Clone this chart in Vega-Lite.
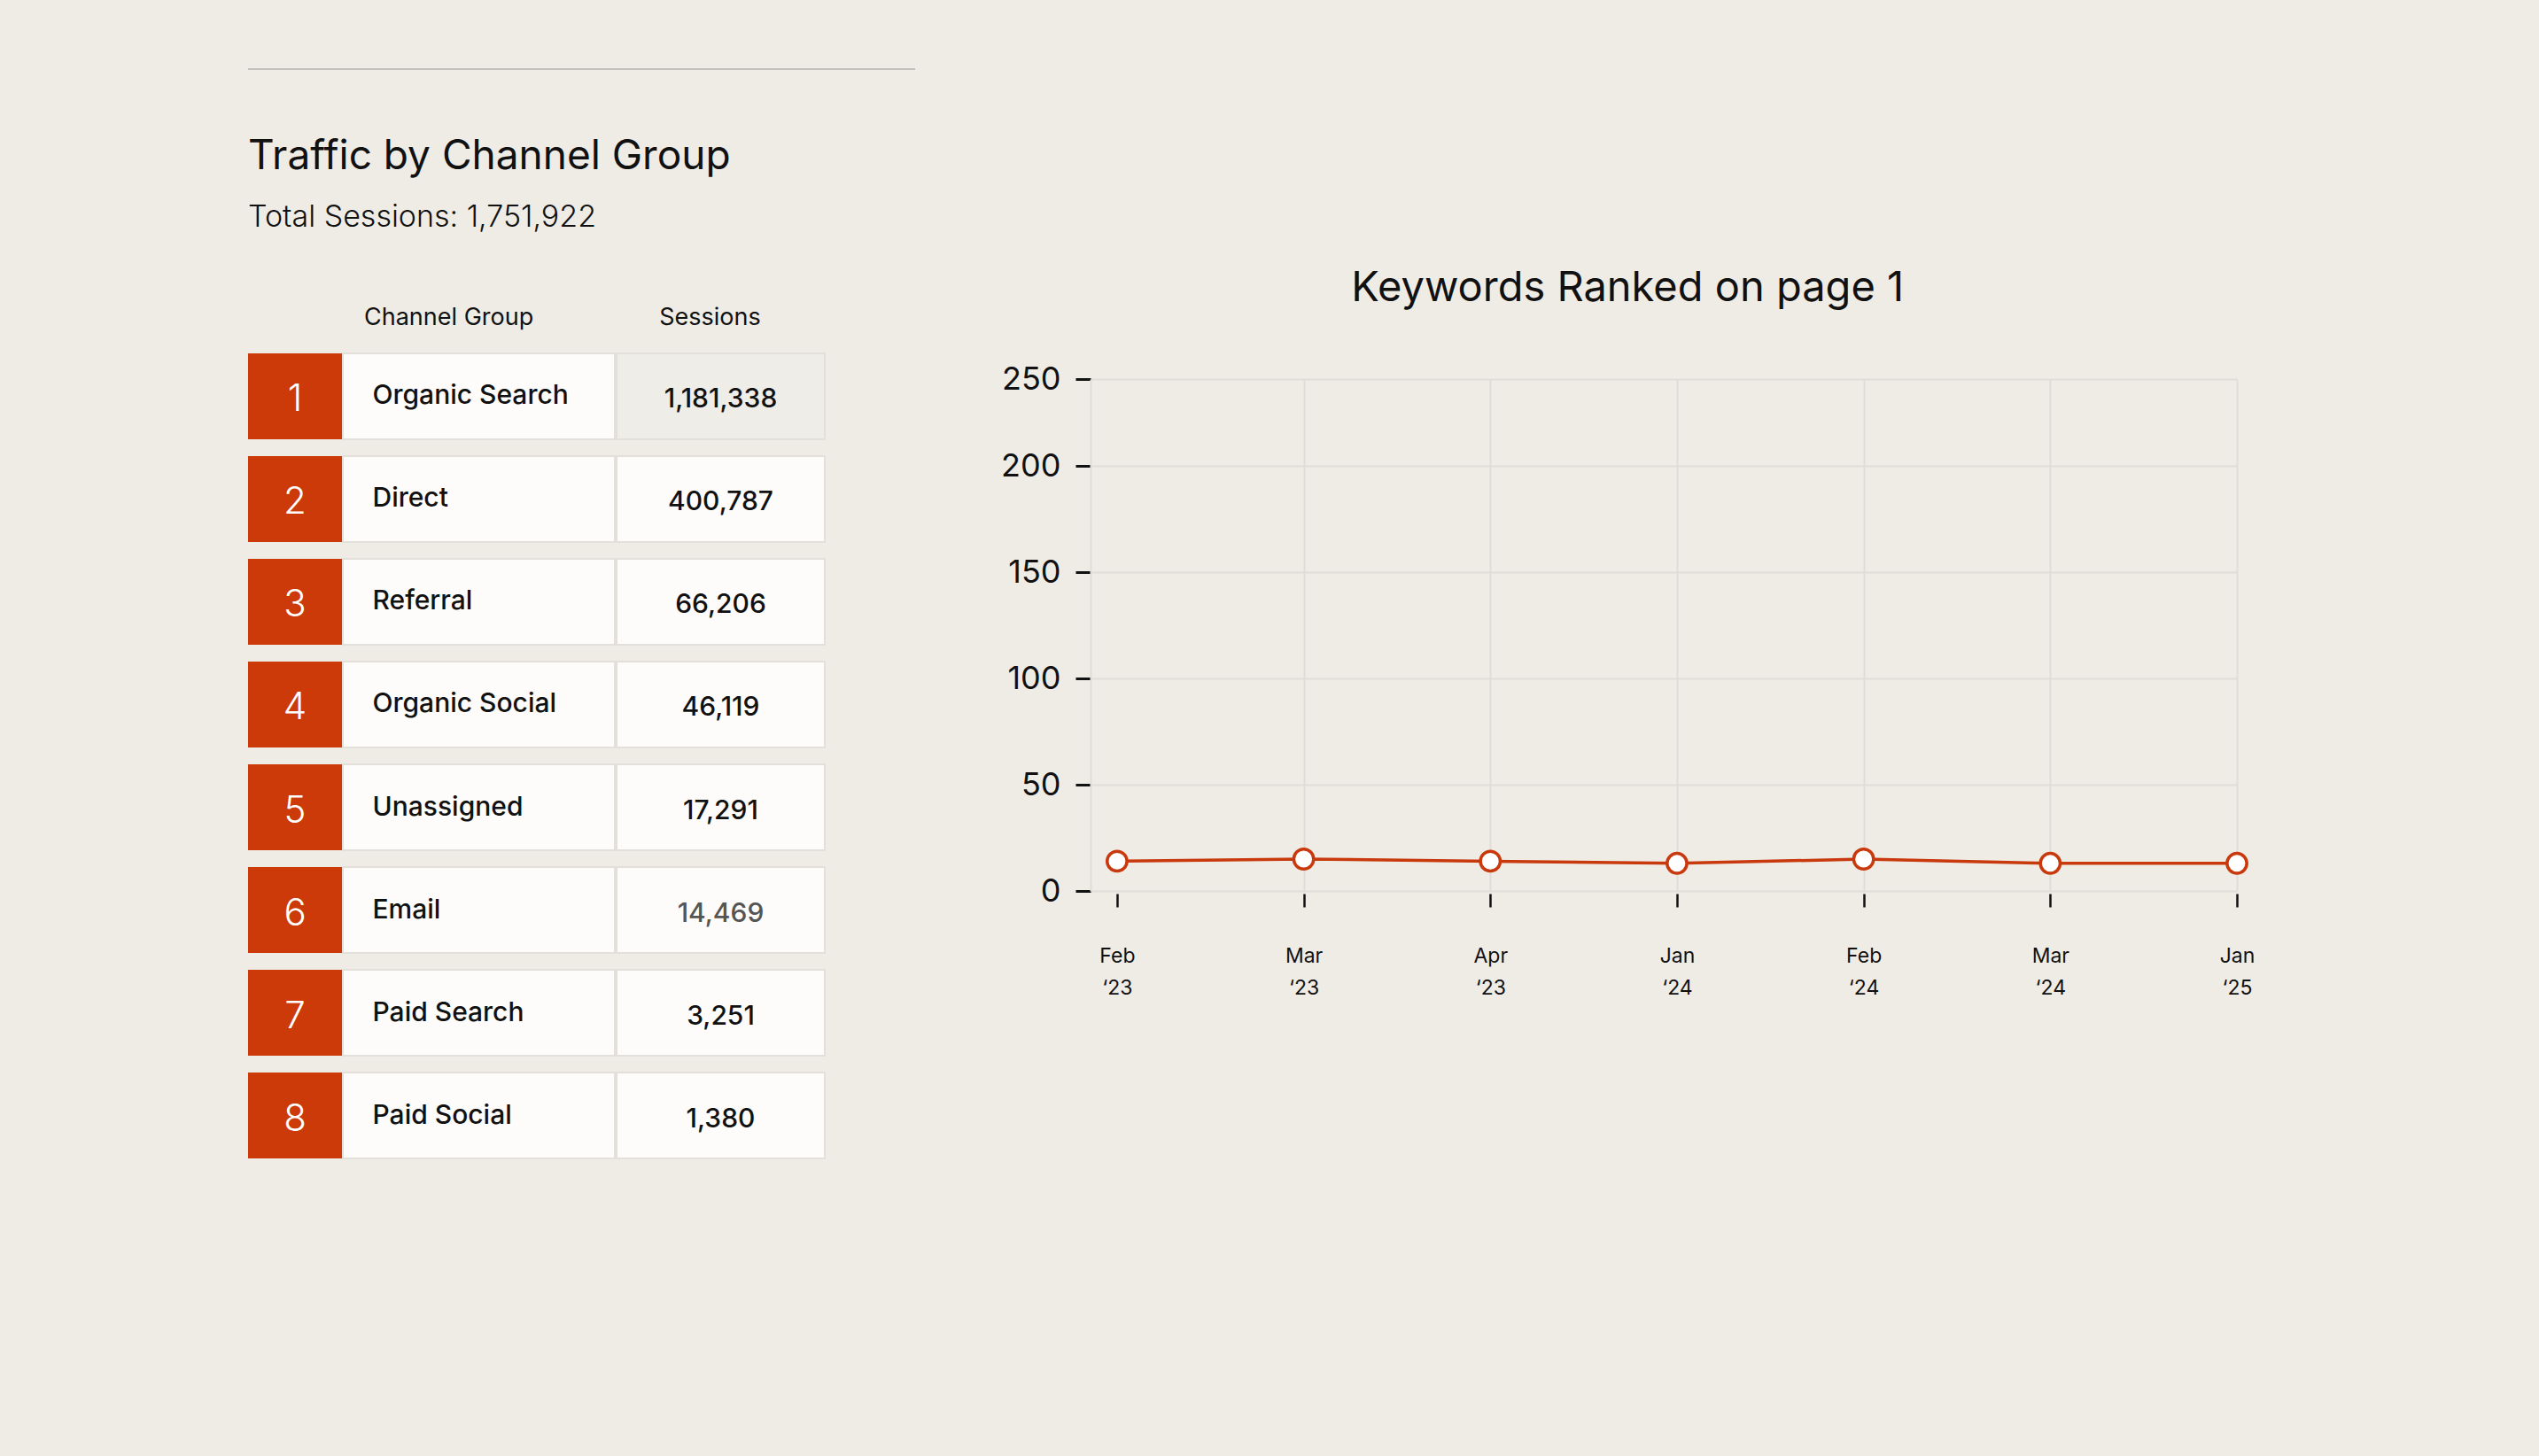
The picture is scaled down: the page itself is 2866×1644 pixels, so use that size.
{
  "$schema": "https://vega.github.io/schema/vega-lite/v6.json",
  "background": "#efece6",
  "padding": {"left": 280, "top": 77, "right": 330, "bottom": 340},
  "datasets": {
    "channels": [
      {"rank": 1, "channel": "Organic Search", "sessions": 1181338},
      {"rank": 2, "channel": "Direct", "sessions": 400787},
      {"rank": 3, "channel": "Referral", "sessions": 66206},
      {"rank": 4, "channel": "Organic Social", "sessions": 46119},
      {"rank": 5, "channel": "Unassigned", "sessions": 17291},
      {"rank": 6, "channel": "Email", "sessions": 14469},
      {"rank": 7, "channel": "Paid Search", "sessions": 3251},
      {"rank": 8, "channel": "Paid Social", "sessions": 1380}
    ],
    "keywords": [
      {"month": "Feb ‘23", "keywords": 14},
      {"month": "Mar ‘23", "keywords": 15},
      {"month": "Apr ‘23", "keywords": 14},
      {"month": "Jan ‘24", "keywords": 13},
      {"month": "Feb ‘24", "keywords": 15},
      {"month": "Mar ‘24", "keywords": 13},
      {"month": "Jan ‘25", "keywords": 13}
    ],
    "empty": []
  },
  "spacing": 96,
  "hconcat": [
    {
      "spacing": 75,
      "vconcat": [
        {
          "width": 753,
          "height": 2,
          "view": {"fill": "#c2c0bb", "stroke": null},
          "data": {"name": "empty"},
          "mark": "point"
        },
        {
          "title": {
            "text": "Traffic by Channel Group",
            "subtitle": "Total Sessions: 1,751,922",
            "anchor": "start",
            "frame": "group",
            "fontSize": 46,
            "fontWeight": 400,
            "color": "#111111",
            "subtitleFontSize": 34,
            "subtitleFontWeight": 300,
            "subtitleColor": "#111111",
            "subtitlePadding": 28,
            "offset": 81
          },
          "data": {"name": "channels"},
          "spacing": 0,
          "hconcat": [
            {
              "width": 106,
              "height": 909,
              "title": {"text": " ", "fontSize": 27, "fontWeight": 400, "offset": 25},
              "encoding": {
                "y": {"field": "rank", "type": "ordinal", "axis": null, "scale": {"paddingInner": 0.164, "paddingOuter": 0}}
              },
              "layer": [
                {"mark": {"type": "rect", "fill": "#cc3a0a"}},
                {"mark": {"type": "text", "fill": "#ffffff", "fontSize": 42, "fontWeight": 300, "dy": 4}, "encoding": {"text": {"field": "rank"}}}
              ]
            },
            {
              "width": 307,
              "height": 909,
              "title": {"text": "Channel Group", "fontSize": 27, "fontWeight": 400, "color": "#111111", "anchor": "start", "dx": 25, "offset": 25},
              "encoding": {
                "y": {"field": "rank", "type": "ordinal", "axis": null, "scale": {"paddingInner": 0.164, "paddingOuter": 0}}
              },
              "layer": [
                {"mark": {"type": "rect", "fill": "#fdfcfa", "stroke": "#e3e0db", "strokeWidth": 2}},
                {"mark": {"type": "text", "align": "left", "dx": -120, "dy": 0, "fill": "#111111", "fontSize": 30, "fontWeight": 500}, "encoding": {"text": {"field": "channel"}}}
              ]
            },
            {
              "width": 235,
              "height": 909,
              "title": {"text": "Sessions", "fontSize": 27, "fontWeight": 400, "color": "#111111", "anchor": "middle", "dx": -12, "offset": 25},
              "encoding": {
                "y": {"field": "rank", "type": "ordinal", "axis": null, "scale": {"paddingInner": 0.164, "paddingOuter": 0}}
              },
              "layer": [
                {
                  "mark": {"type": "rect", "stroke": "#e3e0db", "strokeWidth": 2},
                  "encoding": {"fill": {"condition": {"test": "datum.rank === 1", "value": "#efede8"}, "value": "#fdfcfa"}}
                },
                {
                  "mark": {"type": "text", "fontSize": 30, "fontWeight": 500, "dy": 4},
                  "encoding": {
                    "text": {"field": "sessions", "type": "quantitative", "format": ","},
                    "fill": {"condition": {"test": "datum.channel === 'Email'", "value": "#555555"}, "value": "#111111"}
                  }
                }
              ]
            }
          ]
        }
      ]
    },
    {
      "spacing": 0,
      "vconcat": [
        {
          "width": 10,
          "height": 225,
          "data": {"name": "empty"},
          "mark": "point"
        },
        {
          "width": 1294,
          "height": 578,
          "title": {"text": "Keywords Ranked on page 1", "fontSize": 47, "fontWeight": 400, "color": "#111111", "anchor": "middle", "frame": "bounds", "offset": 60},
          "data": {"name": "keywords"},
          "encoding": {
            "x": {
              "field": "month", "type": "ordinal", "sort": null,
              "scale": {"type": "point", "padding": 0.071, "align": 1},
              "axis": {
                "title": null, "labelAngle": 0, "labelExpr": "split(datum.label, ' ')",
                "labelFontSize": 23, "labelLineHeight": 36, "labelPadding": 44, "labelColor": "#111111",
                "tickColor": "#111111", "tickSize": 15, "tickWidth": 2.5, "offset": 3,
                "domain": false, "grid": true, "gridColor": "#dfddd8", "gridWidth": 2,
                "gridOpacity": {"condition": {"test": "datum.value === 'Feb ‘23'", "value": 0}, "value": 1}
              }
            },
            "y": {
              "field": "keywords", "type": "quantitative",
              "scale": {"domain": [0, 200, 250], "range": [578, 98, 0], "nice": false, "zero": false},
              "axis": {
                "title": null, "values": [0, 50, 100, 150, 200, 250],
                "labelFontSize": 36, "labelColor": "#111111", "labelPadding": 17,
                "tickColor": "#111111", "tickSize": 17, "tickWidth": 3,
                "domain": true, "domainColor": "#dfddd8", "domainWidth": 2,
                "grid": true, "gridColor": "#dfddd8", "gridWidth": 2,
                "minExtent": 100, "maxExtent": 100
              }
            }
          },
          "mark": {
            "type": "line", "color": "#c8390d", "strokeWidth": 3.5,
            "point": {"filled": true, "fill": "#ffffff", "stroke": "#c8390d", "strokeWidth": 3.5, "size": 500, "opacity": 1}
          }
        }
      ]
    }
  ],
  "config": {
    "font": "Inter",
    "view": {"stroke": null}
  }
}
